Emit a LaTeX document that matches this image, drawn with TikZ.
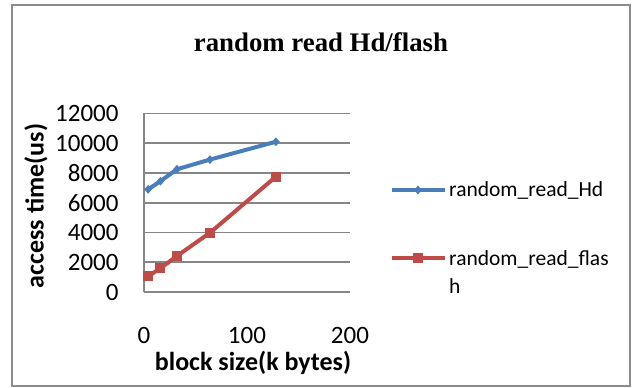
\documentclass[tikz,border=0pt]{standalone}
\usepackage{fontspec}
\setmainfont{Carlito}
\newfontfamily\titlefont{Liberation Serif}
\usetikzlibrary{shapes.geometric}
\definecolor{hdblue}{HTML}{4A7EBB}
\definecolor{flred}{HTML}{BE4B48}
\definecolor{gridgray}{HTML}{868686}
\definecolor{framegray}{HTML}{8C8C8C}
\tikzset{
  gridline/.style={draw=gridgray, line width=1.6pt},
  hdline/.style={draw=hdblue, line width=4pt, line join=round, line cap=round},
  flline/.style={draw=flred, line width=4pt, line join=round, line cap=round},
  hdmark/.style={diamond, fill=hdblue, inner sep=0pt, minimum width=8pt, minimum height=9pt},
  flmark/.style={rectangle, fill=flred, inner sep=0pt, minimum size=10pt},
  ticklab/.style={font=\fontsize{25}{25}\selectfont, inner sep=0pt},
  axtitle/.style={font=\fontsize{26}{26}\selectfont\bfseries, inner sep=0pt},
  legtext/.style={font=\fontsize{21.5}{27}\selectfont, inner sep=0pt, anchor=west}
}
\begin{document}
\begin{tikzpicture}[x=1pt, y=-1pt]
\useasboundingbox (0,0) rectangle (635,388);
\fill[white] (0,0) rectangle (635,388);
\draw[framegray, line width=2.6pt] (12,5) rectangle (630,386);
\node[font=\titlefont\fontsize{26.8}{27}\selectfont\bfseries, inner sep=0pt] (title) at (321,42) {random read Hd/flash};
\begin{scope}[shift={(144pt,-292pt)}, x=1.03pt, y=0.014875pt]
  \foreach \v in {0,2000,...,12000} {
    \draw[gridline] (0,\v) -- (200,\v);
    \node[ticklab, anchor=east] at (-26pt/1.03,\v) {\v};
  }
  \draw[gridline] (0,0) -- (0,12000);
  \node[ticklab] (x0) at (0,-2900) {0};
  \node[ticklab] (x100) at (100,-2900) {100};
  \node[ticklab] (x200) at (200,-2900) {200};
  \coordinate (h1) at (4,6900);
  \coordinate (h2) at (16,7450);
  \coordinate (h3) at (32,8250);
  \coordinate (h4) at (64,8900);
  \coordinate (h5) at (128,10100);
  \coordinate (f1) at (4,1050);
  \coordinate (f2) at (16,1600);
  \coordinate (f3) at (32,2420);
  \coordinate (f4) at (64,3980);
  \coordinate (f5) at (128,7750);
\end{scope}
\draw[hdline] (h1) -- (h2) -- (h3) -- (h4) -- (h5);
\draw[flline] (f1) -- (f2) -- (f3) -- (f4) -- (f5);
\foreach \p in {h1,h2,h3,h4,h5} \node[hdmark] at (\p) {};
\foreach \p in {f1,f2,f3,f4,f5} \node[flmark] at (\p) {};
\node[axtitle] (xtitle) at (253,363) {block size(k bytes)};
\node[axtitle, rotate=90] (ytitle) at (36,206) {access time(us)};
% legend
\coordinate (lh1) at (392,190);
\coordinate (lh2) at (445,190);
\draw[hdline, line cap=butt] (lh1) -- (lh2);
\node[hdmark] (lhm) at (418,190) {};
\node[legtext] (lht) at (449,190) {random\_read\_Hd};
\coordinate (lf1) at (392,258);
\coordinate (lf2) at (445,258);
\draw[flline, line cap=butt] (lf1) -- (lf2);
\node[flmark] (lfm) at (418,258) {};
\node[legtext] (lft) at (449,259) {random\_read\_flas};
\node[legtext] (lft2) at (449,286) {h};
\end{tikzpicture}
\end{document}
